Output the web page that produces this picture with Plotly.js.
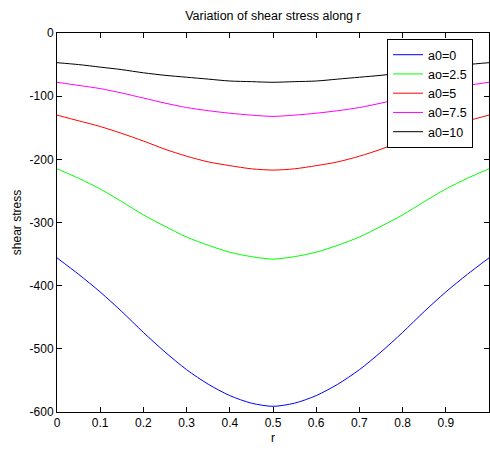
<!DOCTYPE html>
<html>
<head>
<meta charset="utf-8">
<script src="https://cdn.plot.ly/plotly-3.0.1.min.js"></script>
<style>html,body{margin:0;padding:0;background:#fff;}#chart{width:490px;height:450px;}</style>
</head>
<body>
<div id="chart"></div>
<script>
const r = [0,0.05,0.1,0.15,0.2,0.25,0.3,0.35,0.4,0.45,0.5,0.55,0.6,0.65,0.7,0.75,0.8,0.85,0.9,0.95,1];
const a0_0   = [-356,-382,-410,-441,-474,-505,-533,-556,-574,-586,-591,-586,-574,-556,-533,-505,-474,-441,-410,-382,-356];
const a0_2_5 = [-215,-230,-247,-267,-288,-306,-323,-336,-347,-354,-358,-354,-347,-336,-323,-306,-288,-267,-247,-230,-215];
const a0_5   = [-130,-139,-148,-159,-171,-184,-195,-204,-210,-215,-217,-215,-210,-204,-195,-184,-171,-159,-148,-139,-130];
const a0_7_5 = [-78,-83,-88,-95,-103,-111,-118,-123,-127,-130,-132,-130,-127,-123,-118,-111,-103,-95,-88,-83,-78];
const a0_10  = [-47,-50,-54,-58,-63,-67,-70,-73,-76,-77,-78,-77,-76,-73,-70,-67,-63,-58,-54,-50,-47];
const names = ["a0=0","ao=2.5","a0=5","a0=7.5","a0=10"];
const series = [a0_0, a0_2_5, a0_5, a0_7_5, a0_10];
const colors = ["#0000ff","#00ff00","#ff0000","#ff00ff","#000000"];
const xTicks = [0,0.1,0.2,0.3,0.4,0.5,0.6,0.7,0.8,0.9,1];
const yTicks = [-600,-500,-400,-300,-200,-100,0];

const traces = series.map((s,i)=>({
  x: r, y: s, type: 'scatter', mode: 'lines', name: names[i],
  line: {color: colors[i], width: 1, shape: 'spline', smoothing: 0.8}
}));

const fam = 'Liberation Sans, Arial, sans-serif';
const layout = {
  width: 490, height: 450,
  margin: {l: 57, r: 1, t: 33, b: 38},
  paper_bgcolor: '#fff', plot_bgcolor: '#fff',
  font: {family: fam, size: 12, color: '#000'},
  title: {text: 'Variation of shear stress along r', font: {family: fam, size: 12.5, color: '#000'}, x: 0.557, xanchor: 'center', y: 0.966, yanchor: 'middle'},
  showlegend: true,
  legend: {x: 0.764, y: 0.984, xanchor: 'left', yanchor: 'top', bgcolor: '#fff', bordercolor: '#000', borderwidth: 1, font: {family: fam, size: 12.5, color: '#000'}, tracegroupgap: 0},
  xaxis: {
    range: [0,1], tickvals: xTicks, ticktext: xTicks.map(String),
    ticks: 'inside', ticklen: 5, tickcolor: '#000', mirror: 'ticks',
    showline: true, linecolor: '#000', linewidth: 1, showgrid: false, zeroline: false,
    title: {text: 'r', font: {family: fam, size: 12, color: '#000'}, standoff: 4},
    tickfont: {family: fam, size: 12, color: '#000'}
  },
  yaxis: {
    range: [-600,0], tickvals: yTicks, ticktext: yTicks.map(String),
    ticks: 'inside', ticklen: 5, tickcolor: '#000', mirror: 'ticks',
    showline: true, linecolor: '#000', linewidth: 1, showgrid: false, zeroline: false,
    title: {text: 'shear stress', font: {family: fam, size: 12, color: '#000'}, standoff: 5},
    tickfont: {family: fam, size: 12, color: '#000'}
  }
};
Plotly.newPlot('chart', traces, layout, {displayModeBar: false, staticPlot: true});
</script>
</body>
</html>
